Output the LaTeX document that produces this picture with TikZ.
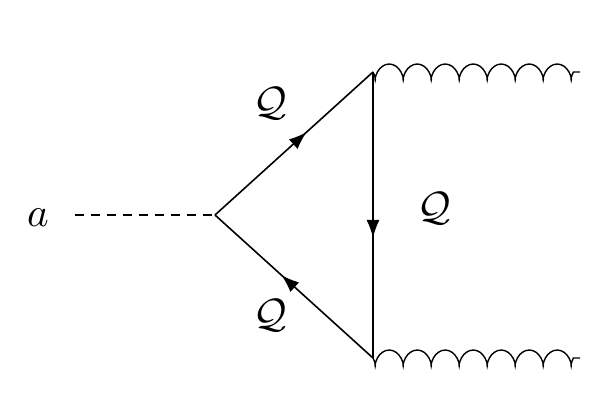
\documentclass[tikz,border=0pt]{standalone}
\usepackage{amsmath}
\usetikzlibrary{decorations.pathmorphing,decorations.markings,arrows.meta}
\tikzset{
  fermion/.style={line width=1.6pt,postaction={decorate},
    decoration={markings,mark=at position 0.58 with {\arrow{Latex[length=18pt,width=13pt]}}}},
  gluon/.style={line width=1.4pt,decorate,
    decoration={coil,aspect=0.6,segment length=28pt,amplitude=-8pt}},
  scalar/.style={line width=1.4pt,dash pattern=on 9pt off 7pt},
  lbl/.style={scale=4.1}
}
\begin{document}
\begin{tikzpicture}[x=1pt,y=-1pt]
  \useasboundingbox (0,0) rectangle (614,410);
  \coordinate (v1) at (215,215);
  \coordinate (v2) at (373,72);
  \coordinate (v3) at (373,358);
  \coordinate (g2) at (580,72);
  \coordinate (g3) at (580,358);
  \node (a) [lbl] at (38,218) {$a$};

  \draw[scalar] (75,215) -- (v1);
  \draw[fermion] (v1) -- (v2);
  \draw[fermion] (v2) -- (v3);
  \draw[fermion] (v3) -- (v1);
  \draw[gluon] (v2) -- (g2);
  \draw[gluon] (v3) -- (g3);

  \node (q1) [lbl] at (270,103) {$\mathcal{Q}$};
  \node (q2) [lbl] at (434,208) {$\mathcal{Q}$};
  \node (q3) [lbl] at (270,315) {$\mathcal{Q}$};
\end{tikzpicture}
\end{document}
